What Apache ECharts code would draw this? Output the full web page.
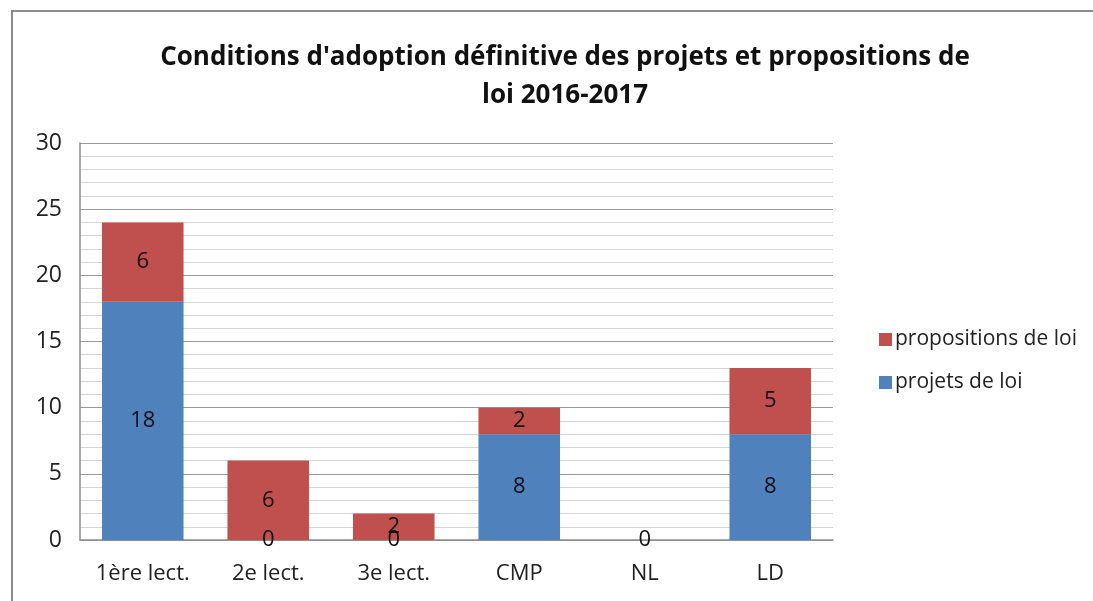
<!DOCTYPE html>
<html>
<head>
<meta charset="utf-8">
<script src="https://cdn.jsdelivr.net/npm/echarts@6/dist/echarts.min.js"></script>
<style>
  html, body { margin: 0; padding: 0; background: #fff; }
  #frame { position: absolute; left: 11px; top: 10px; width: 1090px; height: 600px;
    border-left: 2px solid #8c8c8c; border-top: 2px solid #8c8c8c; }
  #chart { position: absolute; left: 0; top: 0; width: 1093px; height: 601px; }
</style>
</head>
<body>
<div id="frame"></div>
<div id="chart"></div>
<script>
const chart = echarts.init(document.getElementById('chart'))

// categories and values
const categories = ['1ère lect.', '2e lect.', '3e lect.', 'CMP', 'NL', 'LD']
const projetsDeLoi = [18, 0, 0, 8, 0, 8]
const propositionsDeLoi = [6, 6, 2, 2, null, 5]
const fontFamily = "'Open Sans', 'Noto Sans', sans-serif"

const labelStyle = {
  show: true,
  position: 'inside',
  color: '#111',
  fontSize: 22,
  fontFamily: fontFamily,
}

const option = {
  animation: false,
  title: {
    text: "Conditions d'adoption définitive des projets et propositions de\nloi 2016-2017",
    left: 560,
    textAlign: 'center',
    top: 34,
    textStyle: {
      fontSize: 26,
      fontWeight: 'bold',
      color: '#111',
      fontFamily: fontFamily,
      lineHeight: 38,
    },
  },
  legend: {
    orient: 'vertical',
    left: 874,
    top: 324,
    itemGap: 22,
    itemWidth: 13,
    itemHeight: 13,
    icon: 'rect',
    data: ['propositions de loi', 'projets de loi'],
    textStyle: { fontSize: 21, color: '#222', fontFamily: fontFamily, padding: [0, 0, 0, -2] },
  },
  grid: {
    left: 80,
    right: 260,
    top: 143,
    bottom: 61,
  },
  xAxis: {
    type: 'category',
    data: categories,
    axisLine: { lineStyle: { color: '#8c8c8c', width: 1.5 } },
    axisTick: { show: false },
    axisLabel: { fontSize: 22, color: '#222', margin: 23, fontFamily: fontFamily },
  },
  yAxis: {
    type: 'value',
    min: 0,
    max: 30,
    interval: 5,
    axisLine: { show: true, lineStyle: { color: '#8c8c8c', width: 1.5 } },
    axisTick: { show: false },
    axisLabel: { fontSize: 23, color: '#222', margin: 18, fontFamily: fontFamily },
    splitLine: { show: true, lineStyle: { color: '#9a9a9a', width: 1.2 } },
    minorTick: { show: false, splitNumber: 5 },
    minorSplitLine: { show: true, lineStyle: { color: '#d4d4d4', width: 1.2 } },
  },
  series: [
    {
      name: 'projets de loi',
      type: 'bar',
      stack: 'total',
      barCategoryGap: '35%',
      data: projetsDeLoi,
      itemStyle: { color: '#4F81BD' },
      label: labelStyle,
    },
    {
      name: 'propositions de loi',
      type: 'bar',
      stack: 'total',
      barCategoryGap: '35%',
      data: propositionsDeLoi,
      itemStyle: { color: '#C0504D' },
      label: labelStyle,
    },
  ],
}

chart.setOption(option)
</script>
</body>
</html>
